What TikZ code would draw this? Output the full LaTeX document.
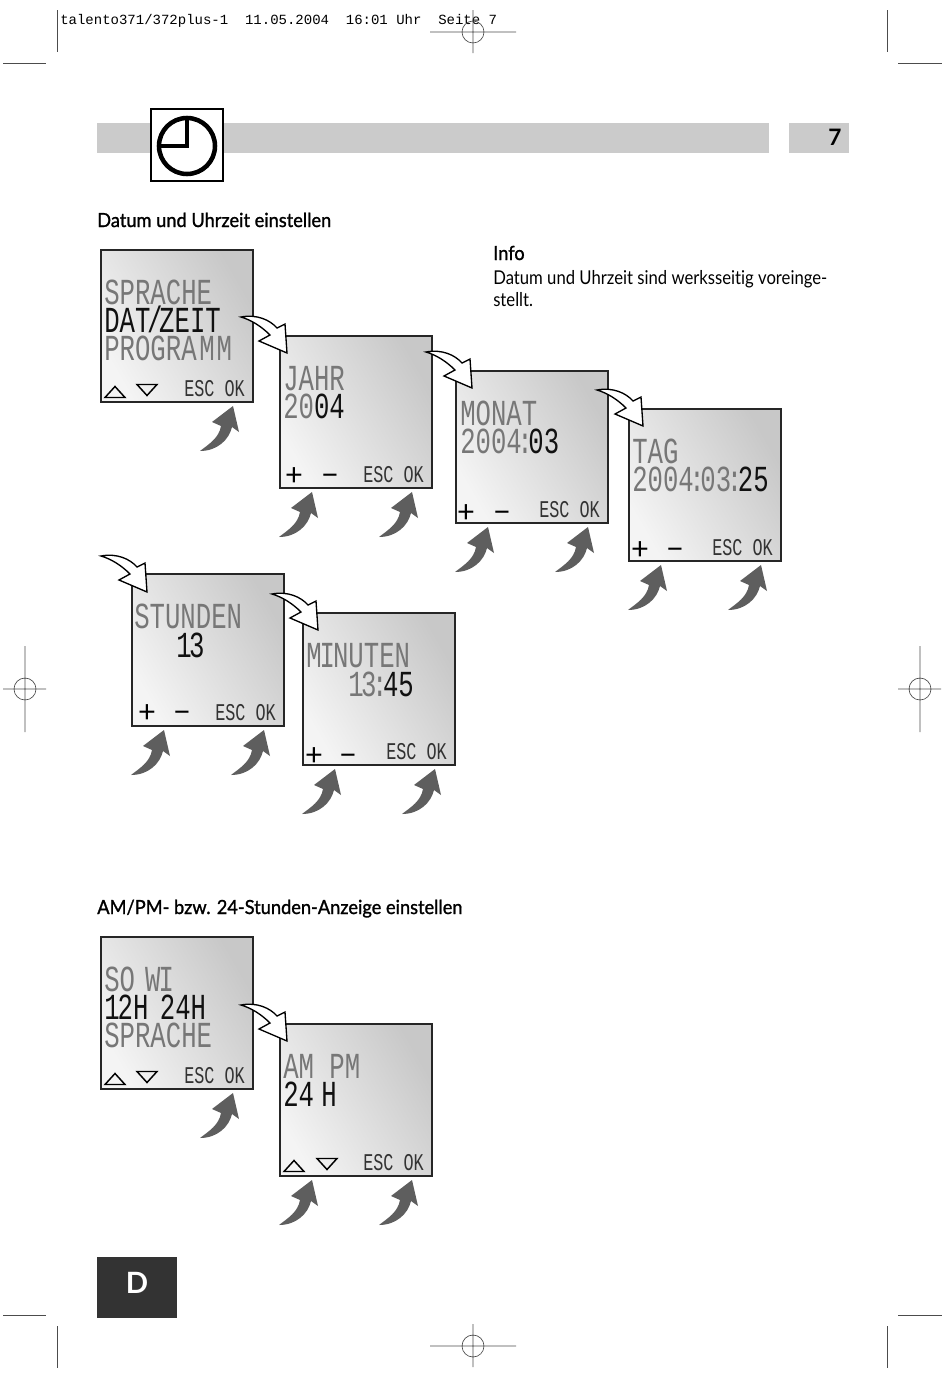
\documentclass[tikz,border=0pt]{standalone}
\usepackage{fontspec}
\setmainfont{Lato}
\newfontfamily\lcdfont[FakeStretch=0.7]{Liberation Mono}
\newfontfamily\stampfont{Liberation Mono}
\newfontfamily\headfont[FakeBold=1.2, FakeStretch=0.936, Ligatures=NoCommon]{Lato}
\newfontfamily\bodyfont[FakeStretch=0.875, Ligatures=NoCommon]{Lato}
\usetikzlibrary{positioning}
\definecolor{barfill}{HTML}{CBCBCB}
\definecolor{darkfill}{HTML}{333333}
\definecolor{pressfill}{HTML}{5E5E5E}
\definecolor{lcdlight}{HTML}{F4F4F4}
\definecolor{lcddark}{HTML}{C8C8C8}
\definecolor{lcdoff}{HTML}{777777}
\definecolor{lcdon}{HTML}{111111}
\newcommand{\lcdcolon}{\kern-3.3pt:\kern-3.3pt}

\begin{document}
\begin{tikzpicture}[
    x=0.75pt, y=-0.75pt,
    screen/.style={rectangle, draw=black!85, line width=1.1pt, anchor=north west, outer sep=0pt,
                   top color=lcddark, bottom color=lcdlight, shading angle=-60,
                   minimum width=114pt, minimum height=114pt},
    lcd/.style={anchor=base west, inner sep=0pt, text=lcdoff, text height=18.5pt, text depth=0pt,
                font=\lcdfont\fontsize{27.5}{30}\selectfont},
    lcdsmall/.style={anchor=base west, inner sep=0pt, text=black!80, font=\lcdfont\fontsize{18}{20}\selectfont},
    sign/.style={anchor=base, inner sep=0pt, text=black, font=\fontsize{23}{23}\selectfont},
    heading/.style={anchor=base west, inner sep=0pt, font=\headfont\fontsize{14.6}{16}\selectfont},
    body/.style={anchor=base west, inner sep=0pt, font=\bodyfont\fontsize{14.3}{16}\selectfont},
    crop/.style={draw=black!70, line width=0.5pt},
    pics/pressarrow/.style={code={
        \fill[pressfill] (0,0) -- (6,26) -- (-1,21) .. controls (-4,34) and (-16,45) .. (-33,45)
            .. controls (-24,38) and (-14,32) .. (-12,20) -- (-21,16) -- cycle;
    }},
    pics/nextarrow/.style={code={
        \filldraw[fill=white, draw=black, line width=1pt, line join=miter] (0,0) -- (-2,-29) -- (-10,-25)
            .. controls (-17,-33) and (-30,-39) .. (-46,-36)
            .. controls (-36,-33) and (-26,-27) .. (-17,-18) -- (-28,-12) -- cycle;
    }},
    pics/regmark/.style={code={
        \draw[crop] (-43,0) -- (43,0) (0,-22) -- (0,21) (0,0) circle (11);
    }},
    pics/keyup/.style={code={
        \draw[black, line width=1.1pt, line join=miter] (-10,5.5) -- (0,-5.5) -- (10,5.5) -- cycle;
    }},
    pics/keydown/.style={code={
        \draw[black, line width=1.1pt, line join=miter] (-10,-5.5) -- (0,5.5) -- (10,-5.5) -- cycle;
    }}
]
\useasboundingbox (0,0) rectangle (950,1385);

% print marks
\node (stamp) [anchor=base west, inner sep=0pt, font=\stampfont\fontsize{10.5}{12}\selectfont] at (60,24)
    {talento371/372plus-1\ \ 11.05.2004\ \ 16:01 Uhr\ \ Seite 7};
\draw[crop] (57,10) -- (57,52) (3,63) -- (46,63);
\draw[crop] (887,10) -- (887,52) (898,63) -- (942,63);
\draw[crop] (57,1326) -- (57,1368) (3,1315) -- (46,1315);
\draw[crop] (887,1326) -- (887,1368) (898,1315) -- (942,1315);
\pic at (473,32) {regmark};
\pic at (473,1346) {regmark};
\pic[rotate=90] at (25,689) {regmark};
\pic[rotate=90] at (920,689) {regmark};

% header
\fill[barfill] (97,123) rectangle (769,153);
\fill[barfill] (789,123) rectangle (849,153);
\node (pageno) [inner sep=0pt, font=\bfseries\fontsize{17}{18}\selectfont] at (835,137) {7};
\node (clockbox) [rectangle, draw=black, line width=2.2pt, fill=white, minimum width=54pt, minimum height=54pt,
                  anchor=north west, outer sep=0pt] at (151,109) {};
\draw[black, line width=3.4pt] (187,146) circle (28);
\draw[black, line width=3.4pt, line join=miter] (187,117) -- (187,146) -- (158,146);
\fill[darkfill] (97,1257) rectangle (177,1318);
\node (lang) [inner sep=0pt, text=white, font=\bfseries\fontsize{22}{22}\selectfont] at (137,1283) {D};

% texts
\node (title) [heading] at (97,227) {Datum und Uhrzeit einstellen};
\node (infohead) [heading] at (493,260) {Info};
\node (infoa) [body] at (493,284) {Datum und Uhrzeit sind werksseitig voreinge-};
\node (infob) [body] at (493,306) {stellt.};
\node (title2) [heading] at (97,914) {AM/PM- bzw. 24-Stunden-Anzeige einstellen};

% screens
\node (sprache) [screen] at (101,250) {};
\node (jahr)    [screen] at (280,336) {};
\node (monat)   [screen] at (456,371) {};
\node (tag)     [screen] at (629,409) {};
\node (stunden) [screen] at (132,574) {};
\node (minuten) [screen] at (303,613) {};
\node (sowi)    [screen] at (101,937) {};
\node (ampm)    [screen] at (280,1024) {};

% screen texts
\node (spr1) [lcd] at ([shift={(3,54)}]sprache.north west) {SPRACHE};
\node (spr2) [lcd, text=lcdon] at ([shift={(3,82)}]sprache.north west) {DAT\kern-2.5pt/\kern-2.5pt ZEIT};
\node (spr3) [lcd] at ([shift={(3,110)}]sprache.north west) {PROGRA\kern2pt M\kern1.5pt M};
\node (jahr1) [lcd] at ([shift={(3,54)}]jahr.north west) {JAHR};
\node (jahr2) [lcd] at ([shift={(3,82)}]jahr.north west) {20\textcolor{lcdon}{04}};
\node (mon1) [lcd] at ([shift={(4,54)}]monat.north west) {MONAT};
\node (mon2) [lcd] at ([shift={(4,82)}]monat.north west) {2004\lcdcolon\textcolor{lcdon}{03}};
\node (tag1) [lcd] at ([shift={(3,54)}]tag.north west) {TAG};
\node (tag2) [lcd] at ([shift={(3,82)}]tag.north west) {2004\lcdcolon 03\lcdcolon\textcolor{lcdon}{25}};
\node (std1) [lcd] at ([shift={(2,54)}]stunden.north west) {STUNDEN};
\node (std2) [lcd, text=lcdon] at ([shift={(44,83)}]stunden.north west) {1\kern-2pt 3};
\node (min1) [lcd] at ([shift={(3,54)}]minuten.north west) {M\kern-1.5pt I\kern-1.5pt NUTEN};
\node (min2) [lcd] at ([shift={(45,83)}]minuten.north west) {1\kern-2pt 3\lcdcolon\textcolor{lcdon}{45}};
\node (sowi1) [lcd] at ([shift={(3,54)}]sowi.north west) {SO\kern-4pt\ W\kern-1.5pt I};
\node (sowi2) [lcd, text=lcdon] at ([shift={(3,82)}]sowi.north west) {1\kern-1.5pt 2H\kern-3pt\ 24H};
\node (sowi3) [lcd] at ([shift={(3,110)}]sowi.north west) {SPRACHE};
\node (ampm1) [lcd] at ([shift={(3,54)}]ampm.north west) {AM PM};
\node (ampm2) [lcd, text=lcdon] at ([shift={(3,82)}]ampm.north west) {24\kern-6pt\ H};

% soft keys
\foreach \s in {sprache, jahr, monat, tag, stunden, minuten, sowi, ampm} {
    \node (\s esc) [lcdsmall] at ([shift={(83,146)}]\s.north west) {ESC OK};
    \pic at ([shift={(132,4)}]\s.south west) {pressarrow};
}
\foreach \s in {jahr, monat, tag, stunden, minuten, ampm} {
    \pic at ([shift={(32,4)}]\s.south west) {pressarrow};
}
\foreach \s/\px/\py/\mx in {jahr/14/149/50, monat/10/151/46, tag/11/150/46, stunden/15/148/50, minuten/11/152/45} {
    \node (\s plus)  [sign] at ([shift={(\px,\py)}]\s.north west) {+};
    \node (\s minus) [sign] at ([shift={(\mx,\py)}]\s.north west) {−};
}
\foreach \s/\ux/\dx in {sprache/14/46, sowi/14/46, ampm/14/47} {
    \pic at ([shift={(\ux,142)}]\s.north west) {keyup};
    \pic at ([shift={(\dx,140)}]\s.north west) {keydown};
}

% steps
\pic at ([shift={(7,17)}]jahr.north west) {nextarrow};
\pic at ([shift={(16,17)}]monat.north west) {nextarrow};
\pic at ([shift={(14,17)}]tag.north west) {nextarrow};
\pic at ([shift={(15,18)}]stunden.north west) {nextarrow};
\pic at ([shift={(15,17)}]minuten.north west) {nextarrow};
\pic at ([shift={(7,17)}]ampm.north west) {nextarrow};
\end{tikzpicture}
\end{document}
